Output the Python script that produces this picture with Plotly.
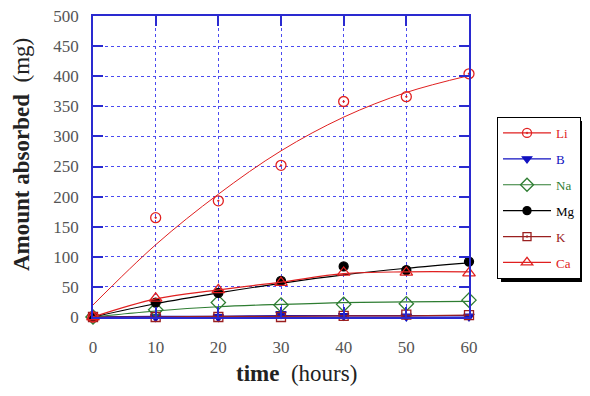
import plotly.graph_objects as go

hours = [0, 10, 20, 30, 40, 50, 60]
x_ticks = [0, 10, 20, 30, 40, 50, 60]
y_ticks = [0, 50, 100, 150, 200, 250, 300, 350, 400, 450, 500]

li = [0, 165, 193, 252, 358, 366, 404]
b = [0, 0, 0, 5, 2, 1, 1]
na = [0, 12, 24, 20, 21, 22, 28]
mg = [0, 24, 40, 60, 84, 78, 92]
k = [0, 0, 0, 0, 2, 4, 3]
ca = [0, 31, 45, 57, 74, 74, 73]

li_fit = [20, 120, 204, 276, 332, 373, 401]
b_fit = [0, 1, 1, 2, 2, 2, 2]
na_fit = [0, 10, 17, 21, 24, 25, 26]
mg_fit = [0, 22, 40, 56, 70, 81, 90]
k_fit = [0, 0, 1, 1, 2, 2, 3]
ca_fit = [0, 30, 45, 58, 72, 75, 75]

BLUE = "#2a2ad0"
GRID = "#4a4af0"
series = [
    # name, data, fit, color, symbol, size, lw
    ("B", b, b_fit, "#1010c0", "triangle-down", 9, 1.5),
    ("Na", na, na_fit, "#2e7d32", "diamond-open", 11, 1.2),
    ("Mg", mg, mg_fit, "#000000", "circle", 9, 1.2),
    ("Ca", ca, ca_fit, "#e02020", "triangle-up-open", 11, 1.2),
    ("K", k, k_fit, "#9a2020", "square-open-dot", 9, 1.2),
    ("Li", li, li_fit, "#e02020", "circle-open-dot", 10, 1.0),
]
legend_order = ["Li", "B", "Na", "Mg", "K", "Ca"]

fig = go.Figure()
for name, data, fit, color, symbol, size, lw in series:
    fig.add_trace(go.Scatter(x=hours, y=fit, mode="lines", line=dict(color=color, width=lw, shape="spline"),
                             showlegend=False, hoverinfo="skip"))
    fig.add_trace(go.Scatter(x=hours, y=data, mode="markers",
                             marker=dict(symbol=symbol, size=size, color=color,
                                         line=dict(color=color, width=1.3)),
                             showlegend=False, cliponaxis=False))
for name, data, fit, color, symbol, size, lw in series:
    fig.add_trace(go.Scatter(x=[None], y=[None], mode="lines+markers",
                             name=f"<span style='color:{color}'>{name}</span>",
                             legendgroup=name, legendrank=legend_order.index(name) + 1,
                             line=dict(color=color, width=1.2),
                             marker=dict(symbol=symbol, size=size - 1, color=color,
                                         line=dict(color=color, width=1.3))))

axis_common = dict(showline=True, linecolor=BLUE, linewidth=1.5, mirror="ticks",
                   ticks="inside", ticklen=10, tickcolor=BLUE, tickwidth=1.5,
                   showgrid=True, gridcolor=GRID, griddash="dot", gridwidth=1,
                   zeroline=False, automargin=False, ticklabeloverflow="allow",
                   tickfont=dict(family="Liberation Serif", size=17, color="#555555"))

fig.update_xaxes(range=[0, 60], tickvals=x_ticks, ticklabelstandoff=14, **axis_common)
fig.update_yaxes(range=[0, 500], tickvals=y_ticks, ticklabelstandoff=9, **axis_common)

fig.add_annotation(text="<b>time</b>  (hours)", xref="paper", yref="paper", x=0.541, y=-0.189,
                   xanchor="center", yanchor="middle", showarrow=False,
                   font=dict(family="Liberation Serif", size=23, color="#222222"))
fig.add_annotation(text="<b>Amount absorbed</b>  (mg)", xref="paper", yref="paper", x=-0.19, y=0.54,
                   xanchor="center", yanchor="middle", showarrow=False, textangle=-90,
                   font=dict(family="Liberation Serif", size=23, color="#222222"))

# legend drop shadow
fig.add_shape(type="rect", xref="paper", yref="paper",
              x0=1.0745 + 4 / 376, x1=1.0745 + 89 / 376,
              y0=0.6645 - 4 / 301, y1=0.6645 - 165 / 301,
              fillcolor="black", line=dict(width=0), layer="above")

fig.update_layout(
    width=582, height=388,
    margin=dict(l=85, r=121, t=8, b=79),
    paper_bgcolor="white", plot_bgcolor="white",
    showlegend=True,
    legend=dict(x=1.0745, y=0.6645, xanchor="left", yanchor="top",
                bgcolor="white", bordercolor="black", borderwidth=1,
                tracegroupgap=6, traceorder="grouped", itemwidth=48,
                font=dict(family="Liberation Serif", size=13)),
)
fig.write_html("out.html")
